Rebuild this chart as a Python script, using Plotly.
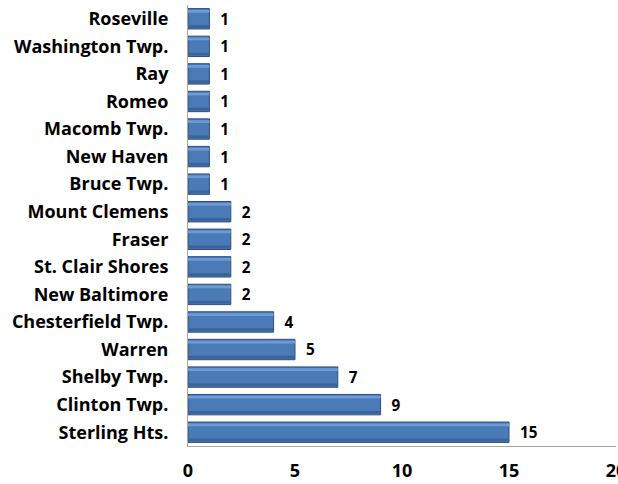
import plotly.graph_objects as go

categories = ["Sterling Hts.", "Clinton Twp.", "Shelby Twp.", "Warren", "Chesterfield Twp.",
              "New Baltimore", "St. Clair Shores", "Fraser", "Mount Clemens", "Bruce Twp.",
              "New Haven", "Macomb Twp.", "Romeo", "Ray", "Washington Twp.", "Roseville"]
values = [15, 9, 7, 5, 4, 2, 2, 2, 2, 1, 1, 1, 1, 1, 1, 1]
x_ticks = [0, 5, 10, 15, 20]

font_family = "'Open Sans', Lato, sans-serif"
label_font = dict(family=font_family, size=18, color="black", weight="bold")

fig = go.Figure()
fig.add_trace(go.Bar(
    y=categories, x=values, orientation="h", width=0.74,
    marker=dict(color="#4a7bb7", line=dict(color="#2c4f80", width=1)),
    text=[f"  {v}" for v in values], textposition="outside",
    textfont=label_font, cliponaxis=False, hoverinfo="x+y",
))
# lighter bevel strip along the top of each bar
fig.add_trace(go.Bar(
    y=categories, x=values, orientation="h", width=0.1, offset=0.22,
    marker=dict(color="#6e9bd3", line=dict(width=0)),
    hoverinfo="skip",
))
# darker strip along the bottom of each bar
fig.add_trace(go.Bar(
    y=categories, x=values, orientation="h", width=0.1, offset=-0.33,
    marker=dict(color="#3a6399", line=dict(width=0)),
    hoverinfo="skip",
))

fig.update_layout(
    width=618, height=484,
    margin=dict(l=188, r=2, t=5, b=38, autoexpand=False),
    paper_bgcolor="white", plot_bgcolor="white",
    barmode="overlay",
    showlegend=False,
    xaxis=dict(range=[0, 20], tickvals=x_ticks, showgrid=False, zeroline=False,
               showline=True, linecolor="#a6a6a6", linewidth=1,
               ticks="outside", ticklen=8, tickcolor="rgba(0,0,0,0)",
               ticklabeloverflow="allow", automargin=False,
               tickfont=label_font),
    yaxis=dict(showgrid=False, zeroline=False, showline=True, linecolor="#a6a6a6", linewidth=1,
               ticks="outside", ticklen=15, tickcolor="rgba(0,0,0,0)", automargin=False,
               range=[-0.5, 15.5],
               tickfont=label_font),
)

fig.write_html("out.html", config={"displayModeBar": False},
               post_script="document.body.style.margin='0';document.body.style.overflow='hidden';")
